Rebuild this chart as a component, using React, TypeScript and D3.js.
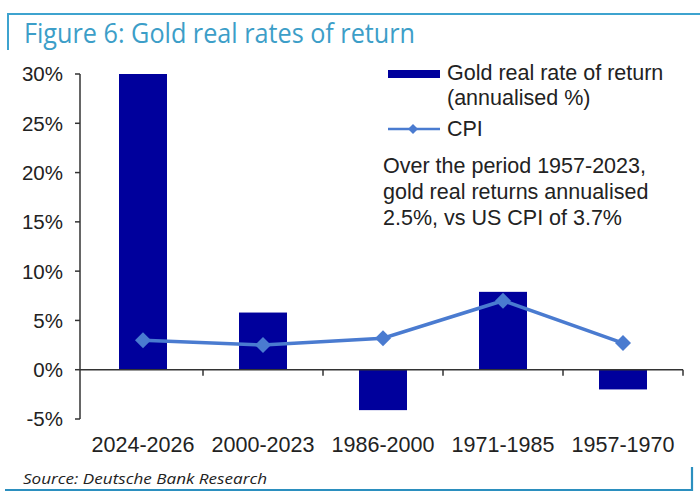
import { useEffect } from "react";
import * as d3 from "d3";

const periods = ["2024-2026", "2000-2023", "1986-2000", "1971-1985", "1957-1970"];
const goldReal = [30.0, 5.8, -4.1, 7.9, -2.0];
const cpi = [3.0, 2.5, 3.2, 7.0, 2.7];
const yTicks = [-5, 0, 5, 10, 15, 20, 25, 30];

const noteLines = [
  "Over the period 1957-2023,",
  "gold real returns annualised",
  "2.5%, vs US CPI of 3.7%",
];

const W = 700;
const H = 496;
const BAR = "#00009c";
const LINE = "#4a7bd0";
const FRAME = "#3ea3cf";
const FONT = "'Liberation Sans', Arial, sans-serif";

const diamond = (cx: number, cy: number, r: number) =>
  `M${cx},${cy - r}L${cx + r},${cy}L${cx},${cy + r}L${cx - r},${cy}Z`;

const App = () => {
  useEffect(() => {
    document.body.style.margin = "0";
  }, []);

  const x = d3
    .scaleBand<string>()
    .domain(periods)
    .range([83, 683])
    .paddingInner(0.6)
    .paddingOuter(0.3);
  const y = d3.scaleLinear().domain([-5, 30]).range([419, 74]);
  const step = x.step();
  const bw = x.bandwidth();
  const cx = (p: string) => (x(p) ?? 0) + bw / 2;

  const line = d3
    .line<number>()
    .x((_, i) => cx(periods[i]))
    .y((d) => y(d));

  return (
    <svg width={W} height={H} style={{ display: "block", background: "#fff" }}>
      {/* frame */}
      <path d="M8,50V14H700" fill="none" stroke={FRAME} strokeWidth={2} />
      <path d="M5,490H692V467" fill="none" stroke="#2b8fbf" strokeWidth={2.2} />
      <text
        x={24}
        y={43}
        fontFamily="'Open Sans', sans-serif"
        fontSize={27}
        fill="#3c9ec8"
        textLength={391}
        lengthAdjust="spacingAndGlyphs"
      >
        Figure 6: Gold real rates of return
      </text>

      {/* bars */}
      {goldReal.map((v, i) => (
        <rect
          key={periods[i]}
          x={x(periods[i])}
          y={y(Math.max(0, v))}
          width={bw}
          height={Math.abs(y(v) - y(0))}
          fill={BAR}
        />
      ))}

      {/* y axis */}
      <line x1={80} x2={80} y1={y(30)} y2={y(-5)} stroke="#333" strokeWidth={1.5} />
      {yTicks.map((t) => (
        <g key={t}>
          <line x1={75} x2={80} y1={y(t)} y2={y(t)} stroke="#333" strokeWidth={1.5} />
          <text
            x={63}
            y={y(t)}
            dy="0.36em"
            textAnchor="end"
            fontFamily={FONT}
            fontSize={20.5}
            fill="#222"
          >
            {t}%
          </text>
        </g>
      ))}

      {/* x axis */}
      <line x1={80} x2={683} y1={y(0)} y2={y(0)} stroke="#333" strokeWidth={1.5} />
      {periods.map((p) => (
        <line
          key={p}
          x1={(x(p) ?? 0) + bw + (step - bw) / 2}
          x2={(x(p) ?? 0) + bw + (step - bw) / 2}
          y1={y(0)}
          y2={y(0) + 6}
          stroke="#333"
          strokeWidth={1.5}
        />
      ))}
      {periods.map((p) => (
        <text
          key={p}
          x={cx(p)}
          y={452}
          textAnchor="middle"
          fontFamily={FONT}
          fontSize={21.5}
          fill="#222"
        >
          {p}
        </text>
      ))}

      {/* CPI line */}
      <path d={line(cpi) ?? ""} fill="none" stroke={LINE} strokeWidth={3.5} />
      {cpi.map((v, i) => (
        <path key={i} d={diamond(cx(periods[i]), y(v), 8)} fill={LINE} />
      ))}

      {/* legend */}
      <rect x={388} y={70} width={52} height={8} fill={BAR} />
      <text x={447} y={80} fontFamily={FONT} fontSize={21.5} fill="#222">
        Gold real rate of return
      </text>
      <text x={447} y={105} fontFamily={FONT} fontSize={21.5} fill="#222">
        (annualised %)
      </text>
      <line x1={388} x2={440} y1={129} y2={129} stroke={LINE} strokeWidth={2.5} />
      <path d={diamond(413, 129, 5)} fill={LINE} />
      <text x={447} y={136} fontFamily={FONT} fontSize={21.5} fill="#222">
        CPI
      </text>

      {noteLines.map((s, i) => (
        <text key={i} x={383} y={173 + i * 26} fontFamily={FONT} fontSize={21.5} fill="#222">
          {s}
        </text>
      ))}

      <text
        x={23}
        y={484}
        fontFamily="'Open Sans', sans-serif"
        fontStyle="italic"
        fontSize={15}
        fill="#222"
        textLength={244}
        lengthAdjust="spacingAndGlyphs"
      >
        Source: Deutsche Bank Research
      </text>
    </svg>
  );
};

export default App;
